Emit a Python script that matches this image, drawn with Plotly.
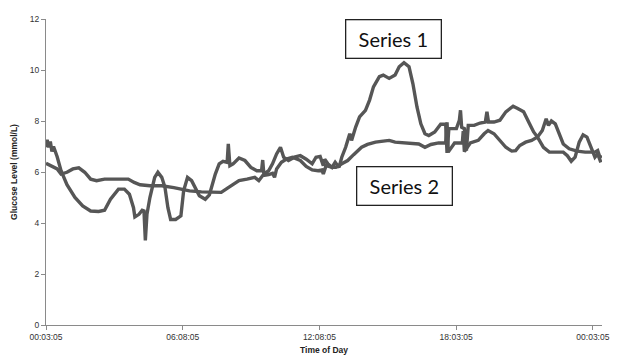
import plotly.graph_objects as go

# Time of day in hours since 00:03:05, and glucose readings (mmol/L)
s1_hours = [0.00, 0.05, 0.12, 0.19, 0.26, 0.33, 0.49, 0.66, 0.92, 1.27, 1.61, 1.96, 2.31, 2.57,
            2.83, 3.18, 3.44, 3.66, 3.84, 3.90, 4.08, 4.22, 4.30, 4.36, 4.43, 4.56, 4.77, 4.91,
            5.08, 5.22, 5.35, 5.47, 5.69, 5.92, 6.04, 6.21, 6.39, 6.56, 6.73, 6.99, 7.17, 7.43,
            7.60, 7.77, 7.95, 8.00, 8.07, 8.21, 8.47, 8.73, 8.99, 9.25, 9.46, 9.51, 9.56, 9.77,
            9.94, 10.12, 10.29, 10.43, 10.64, 10.90, 11.16, 11.42, 11.68, 11.85, 12.03, 12.17,
            12.23, 12.37, 12.55, 12.69, 12.86, 12.98, 13.15, 13.33, 13.41, 13.59, 13.76, 14.02,
            14.20, 14.37, 14.63, 14.80, 15.06, 15.32, 15.50, 15.71, 15.93, 16.10, 16.28, 16.45,
            16.63, 16.80, 17.06, 17.32, 17.54, 17.60, 17.68, 18.01, 18.14, 18.19, 18.24, 18.36,
            18.45, 18.53, 18.79, 19.05, 19.28, 19.35, 19.42, 19.66, 19.92, 20.18, 20.50, 20.70,
            20.96, 21.22, 21.40, 21.57, 21.83, 22.09, 22.44, 22.70, 22.88, 23.05, 23.22, 23.40,
            23.57, 23.74, 23.92, 24.09, 24.21, 24.35]
s1_glucose = [6.97, 7.26, 6.97, 7.20, 6.80, 7.00, 6.60, 6.05, 5.50, 5.00, 4.67, 4.47, 4.45, 4.50,
              4.93, 5.33, 5.33, 5.13, 4.60, 4.24, 4.34, 4.50, 4.47, 3.32, 4.34, 5.00, 5.79, 5.99,
              5.79, 5.40, 4.60, 4.14, 4.14, 4.28, 5.26, 5.79, 5.66, 5.33, 5.07, 4.93, 5.10, 5.92,
              6.32, 6.42, 6.38, 7.10, 6.25, 6.32, 6.55, 6.45, 6.18, 6.05, 6.05, 6.47, 5.92, 6.05,
              6.32, 6.71, 6.97, 6.58, 6.45, 6.58, 6.64, 6.50, 6.32, 6.58, 6.61, 6.25,
              6.50, 6.32, 6.18, 6.38, 6.18, 6.58, 6.97, 7.50, 7.24, 7.76, 8.16, 8.42,
              8.82, 9.34, 9.74, 9.80, 9.67, 9.80, 10.13, 10.29, 10.13, 9.47, 8.55, 7.89,
              7.50, 7.43, 7.57, 7.87, 7.87, 6.75, 7.70, 7.70, 8.03, 8.42, 7.76, 7.70,
              6.84, 7.83, 7.83, 7.92, 7.96, 8.36, 7.96, 7.96, 8.03, 8.36, 8.58, 8.49,
              8.36, 7.89, 7.57, 7.37, 6.97, 6.78, 6.78, 6.78, 6.64, 6.42, 6.58, 7.17,
              7.46, 7.37, 6.97, 6.58, 6.71, 6.38]

s2_hours = [0.00, 0.23, 0.49, 0.66, 0.92, 1.18, 1.44, 1.70, 1.96, 2.22, 2.57, 3.00, 3.61, 3.87,
            4.13, 4.56, 5.08, 5.61, 5.95, 6.30, 6.82, 7.34, 7.69, 7.95, 8.21, 8.47, 8.82, 9.16,
            9.34, 9.51, 9.77, 9.94, 10.03, 10.12, 10.33, 10.55, 10.81, 11.16, 11.42, 11.68,
            11.94, 12.11, 12.17, 12.29, 12.55, 12.72, 12.98, 13.24, 13.50, 13.68, 13.85, 14.11,
            14.46, 14.80, 15.06, 15.32, 15.67, 16.02, 16.36, 16.63, 16.89, 17.23, 17.54, 17.60,
            17.65, 17.93, 18.27, 18.31, 18.36, 18.62, 18.97, 19.23, 19.40, 19.66, 19.92, 20.18,
            20.44, 20.61, 20.79, 21.05, 21.31, 21.57, 21.78, 21.95, 22.05, 22.18, 22.35, 22.52,
            22.70, 22.96, 23.31, 23.66, 24.09, 24.21, 24.31, 24.38]
s2_glucose = [6.34, 6.25, 6.12, 5.92, 5.99, 6.12, 6.16, 5.99, 5.72, 5.66, 5.72, 5.72, 5.72, 5.59,
              5.50, 5.46, 5.46, 5.39, 5.33, 5.26, 5.22, 5.20, 5.20, 5.36, 5.53, 5.66, 5.72, 5.79,
              5.66, 5.86, 5.90, 5.95, 5.79, 6.12, 6.38, 6.51, 6.58, 6.45, 6.22, 6.08,
              6.05, 6.08, 5.92, 6.25, 6.18, 6.18, 6.32, 6.45, 6.68, 6.84, 6.97, 7.08,
              7.17, 7.21, 7.24, 7.17, 7.14, 7.13, 7.10, 6.97, 7.08, 7.14, 7.14, 7.95,
              6.78, 7.14, 7.14, 7.60, 6.80, 7.14, 7.24, 7.50, 7.63, 7.50, 7.24, 6.97,
              6.82, 6.84, 7.04, 7.17, 7.24, 7.37, 7.63, 8.09, 7.83, 8.00, 7.89, 7.50,
              7.10, 6.91, 6.82, 6.78, 6.78, 6.84, 6.58, 6.65]

tick_hours = [0, 6, 12, 18, 24]
tick_labels = ["00:03:05", "06:08:05", "12:08:05", "18:03:05", "00:03:05"]
y_ticks = [0, 2, 4, 6, 8, 10, 12]

line_style = dict(color="#565656", width=3.4)
label_font = dict(family="Lato", size=20, color="#111111")
axis_font = dict(family="Liberation Sans", size=8.5, color="#333333")
title_font = dict(family="Liberation Sans", size=8.5, color="#222222")

fig = go.Figure()
fig.add_trace(go.Scatter(x=s1_hours, y=s1_glucose, mode="lines", line=line_style,
                         name="Series 1", showlegend=False))
fig.add_trace(go.Scatter(x=s2_hours, y=s2_glucose, mode="lines", line=line_style,
                         name="Series 2", showlegend=False))

for text, xh, yv in [("Series 1", 15.26, 11.22), ("Series 2", 15.75, 5.46)]:
    fig.add_annotation(x=xh, y=yv, xref="x", yref="y", text=text, showarrow=False,
                       font=label_font, bgcolor="white", bordercolor="#222222",
                       borderwidth=1.3, borderpad=1, width=92, height=35,
                       xanchor="center", yanchor="middle")

fig.update_layout(
    width=618, height=357,
    margin=dict(l=46, r=16, t=19, b=32, autoexpand=False),
    paper_bgcolor="white", plot_bgcolor="white",
    font=axis_font,
)
fig.update_xaxes(
    range=[0, 24.4], tickvals=tick_hours, ticktext=tick_labels, automargin=False,
    showgrid=False, zeroline=False, showline=True, linecolor="#8a8a8a", linewidth=1.2,
    ticks="outside", ticklen=4, tickcolor="#8a8a8a", tickfont=axis_font,
    title=dict(text="<b>Time of Day</b>", font=title_font, standoff=5),
)
fig.update_yaxes(
    range=[0, 12], tickvals=y_ticks, automargin=False,
    showgrid=False, zeroline=False, showline=True, linecolor="#8a8a8a", linewidth=1.2,
    ticks="outside", ticklen=4, tickcolor="#8a8a8a", tickfont=axis_font,
    title=dict(text="<b>Glucose Level (mmol/L)</b>", font=title_font, standoff=10),
)

fig.write_html("out.html")
